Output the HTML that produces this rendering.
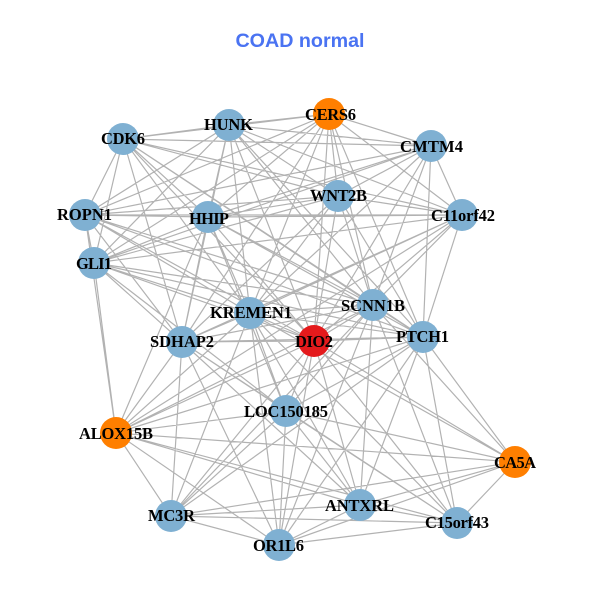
<!DOCTYPE html>
<html><head><meta charset="utf-8"><style>html,body{margin:0;padding:0;background:#fff}svg{display:block}
.l{font:bold 16.5px "Liberation Serif",serif;fill:#000;text-anchor:start}
</style></head><body>
<svg width="600" height="600" viewBox="0 0 600 600" xmlns="http://www.w3.org/2000/svg">
<rect width="600" height="600" fill="#fff"/>
<text x="300" y="47" text-anchor="middle" style="font:bold 19.7px 'Liberation Sans',sans-serif;fill:#4a73f2">COAD normal</text>
<path fill="none" stroke="#b2b2b2" stroke-width="1.2" d="
M123 139L229 125M123 139L329 114M123 139L431 146M123 139L338 196M123 139L462 215M123 139L85 215M123 139L208 217M123 139L94 263M123 139L250 313M123 139L373 305M123 139L423 337M123 139L314 341M123 139L182 342
M229 125L329 114M229 125L431 146M229 125L338 196M229 125L462 215M229 125L85 215M229 125L208 217M229 125L94 263M229 125L250 313M229 125L373 305M229 125L423 337M229 125L314 341M229 125L182 342
M329 114L431 146M329 114L338 196M329 114L462 215M329 114L85 215M329 114L208 217M329 114L94 263M329 114L250 313M329 114L373 305M329 114L423 337M329 114L314 341M329 114L182 342
M431 146L338 196M431 146L462 215M431 146L85 215M431 146L208 217M431 146L94 263M431 146L250 313M431 146L373 305M431 146L423 337M431 146L314 341
M338 196L462 215M338 196L85 215M338 196L208 217M338 196L94 263M338 196L250 313M338 196L373 305M338 196L423 337M338 196L314 341M338 196L182 342
M462 215L85 215M462 215L208 217M462 215L94 263M462 215L373 305M462 215L423 337M462 215L314 341M462 215L250 313M462 215L182 342M462 215L116 433
M85 215L208 217M85 215L94 263M85 215L250 313M85 215L373 305M85 215L423 337M85 215L314 341M85 215L182 342M85 215L116 433
M208 217L94 263M208 217L250 313M208 217L373 305M208 217L423 337M208 217L314 341M208 217L182 342M208 217L286 411M208 217L116 433
M94 263L250 313M94 263L373 305M94 263L423 337M94 263L314 341M94 263L182 342M94 263L286 411M94 263L116 433
M250 313L373 305M250 313L423 337M250 313L314 341M250 313L182 342M250 313L286 411M250 313L116 433M250 313L515 462M250 313L360 505M250 313L457 523M250 313L171 516M250 313L279 545
M373 305L423 337M373 305L314 341M373 305L182 342M373 305L286 411M373 305L116 433M373 305L515 462M373 305L360 505M373 305L457 523M373 305L171 516M373 305L279 545
M423 337L314 341M423 337L182 342M423 337L286 411M423 337L116 433M423 337L515 462M423 337L360 505M423 337L457 523M423 337L171 516M423 337L279 545
M314 341L182 342M314 341L286 411M314 341L116 433M314 341L515 462M314 341L360 505M314 341L457 523M314 341L171 516M314 341L279 545
M182 342L286 411M182 342L116 433M182 342L360 505M182 342L457 523M182 342L171 516M182 342L279 545
M286 411L116 433M286 411L515 462M286 411L360 505M286 411L457 523M286 411L171 516M286 411L279 545
M116 433L515 462M116 433L360 505M116 433L457 523M116 433L171 516M116 433L279 545
M515 462L360 505M515 462L457 523M515 462L171 516M515 462L279 545
M360 505L457 523M360 505L171 516M360 505L279 545
M457 523L279 545M457 523L171 516M171 516L279 545"/>
<g fill="#7fb0d2">
<circle cx="123" cy="139" r="16"/><circle cx="229" cy="125" r="16"/><circle cx="431" cy="146" r="16"/><circle cx="338" cy="196" r="16"/><circle cx="462" cy="215" r="16"/><circle cx="85" cy="215" r="16"/><circle cx="208" cy="217" r="16"/><circle cx="94" cy="263" r="16"/><circle cx="250" cy="313" r="16"/><circle cx="373" cy="305" r="16"/><circle cx="423" cy="337" r="16"/><circle cx="182" cy="342" r="16"/><circle cx="286" cy="411" r="16"/><circle cx="360" cy="505" r="16"/><circle cx="457" cy="523" r="16"/><circle cx="171" cy="516" r="16"/><circle cx="279" cy="545" r="16"/>
</g>
<g fill="#ff7f00"><circle cx="329" cy="114" r="16"/><circle cx="116" cy="433" r="16"/><circle cx="515" cy="462" r="16"/></g>
<circle cx="314" cy="341" r="16" fill="#e41a1c"/>
<g>
<text class="l" x="101" y="144" textLength="44">CDK6</text>
<text class="l" x="204" y="130" textLength="49">HUNK</text>
<text class="l" x="305" y="120" textLength="51">CERS6</text>
<text class="l" x="400" y="152" textLength="63">CMTM4</text>
<text class="l" x="310" y="201" textLength="57">WNT2B</text>
<text class="l" x="431" y="221" textLength="64">C11orf42</text>
<text class="l" x="57" y="220" textLength="55">ROPN1</text>
<text class="l" x="189" y="224" textLength="40">HHIP</text>
<text class="l" x="76" y="269" textLength="36">GLI1</text>
<text class="l" x="210" y="318" textLength="82">KREMEN1</text>
<text class="l" x="341" y="311" textLength="64">SCNN1B</text>
<text class="l" x="396" y="342" textLength="53">PTCH1</text>
<text class="l" x="295" y="347" textLength="38">DIO2</text>
<text class="l" x="150" y="347" textLength="64">SDHAP2</text>
<text class="l" x="244" y="417" textLength="84">LOC150185</text>
<text class="l" x="79" y="439" textLength="74">ALOX15B</text>
<text class="l" x="494" y="468" textLength="42">CA5A</text>
<text class="l" x="325" y="511" textLength="69">ANTXRL</text>
<text class="l" x="425" y="528" textLength="64">C15orf43</text>
<text class="l" x="148" y="521" textLength="47">MC3R</text>
<text class="l" x="253" y="551" textLength="51">OR1L6</text>
</g>
</svg>
</body></html>
